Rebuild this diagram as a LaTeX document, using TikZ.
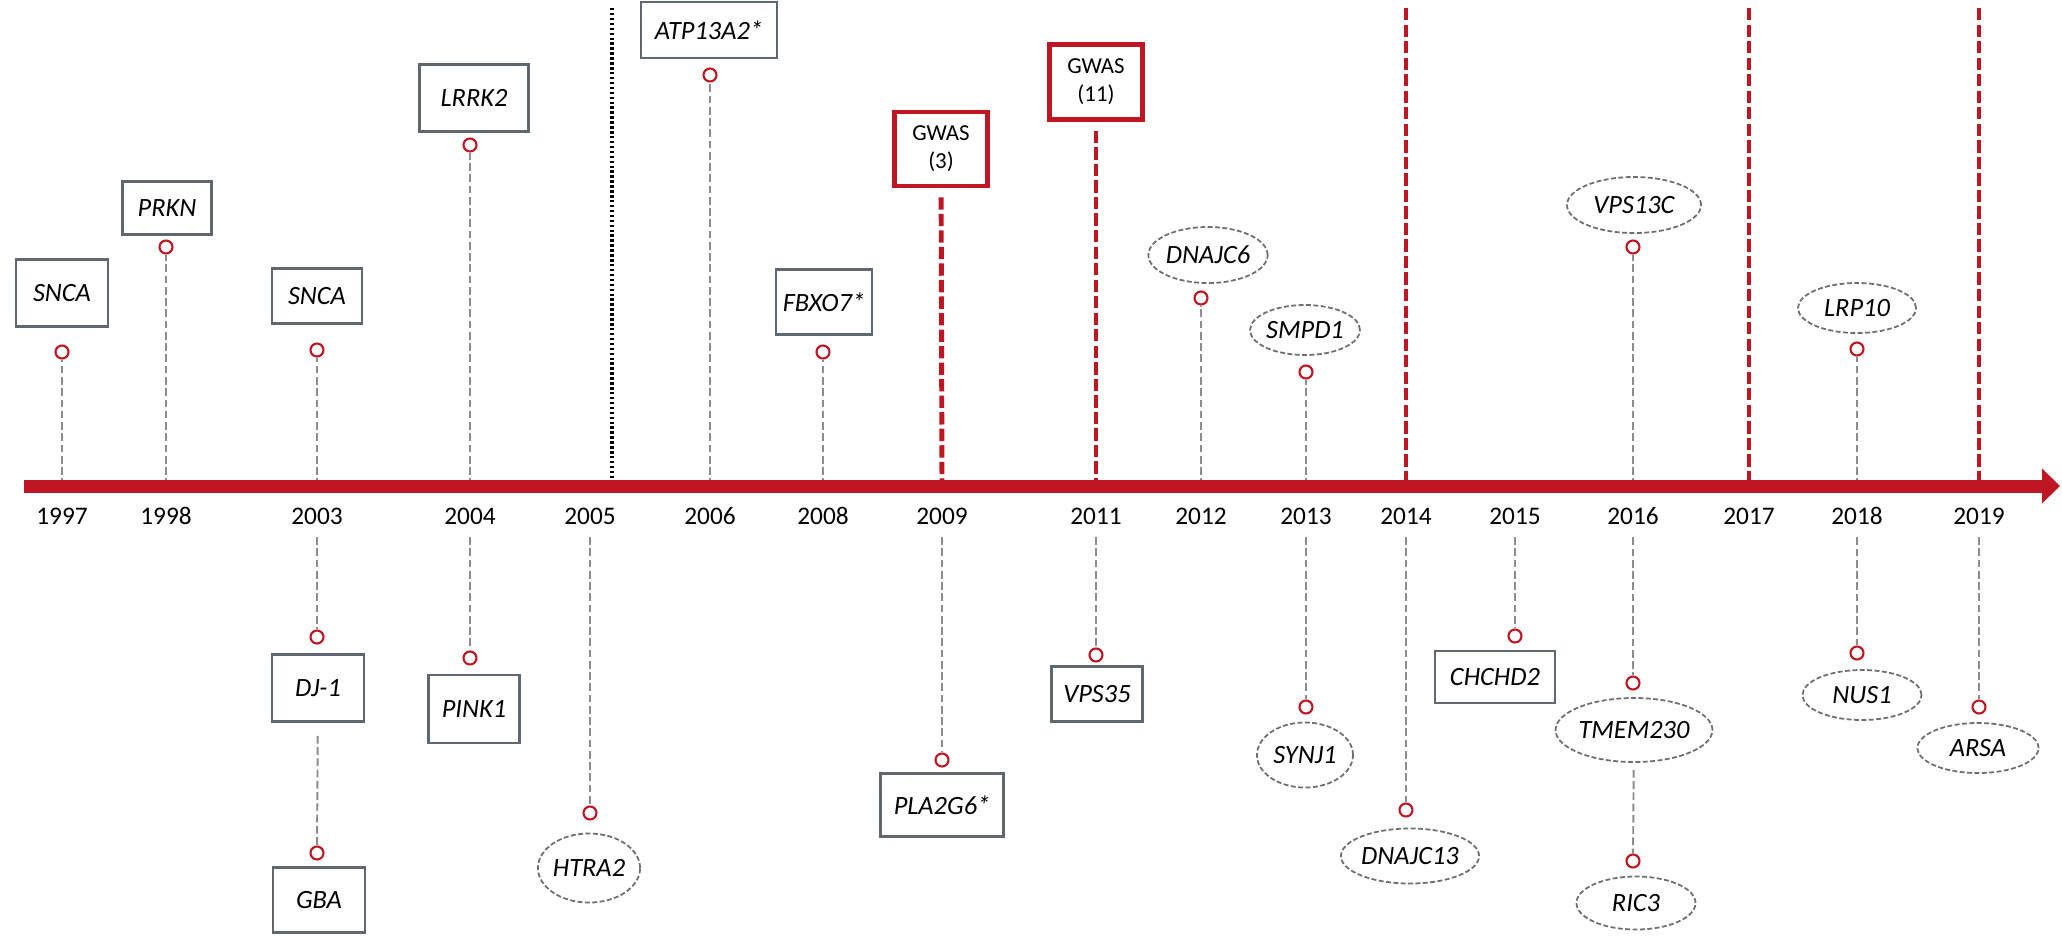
\documentclass[tikz,border=0pt]{standalone}
\usepackage{fontspec}
\setmainfont{Carlito}
\usetikzlibrary{arrows.meta, shapes.geometric}
\definecolor{tlred}{RGB}{190,22,34}
\definecolor{boxgray}{RGB}{95,103,112}
\definecolor{stemgray}{RGB}{140,140,140}
\definecolor{ovalgray}{RGB}{110,110,110}
\tikzstyle{genebase} = [text centered, inner sep=0pt, font=\fontsize{7.5}{9}\selectfont\itshape]
\tikzstyle{gene} = [genebase, rectangle, draw=boxgray, line width=0.8pt, fill=white]
\tikzstyle{geneoval} = [genebase, ellipse, draw=ovalgray, dash pattern=on 1.4pt off 0.7pt,
 line width=0.5pt, fill=white]
\tikzstyle{gwas} = [rectangle, draw=tlred, line width=1.3pt, align=center, inner sep=0pt,
 minimum width=0.93cm, font=\fontsize{6.5}{8}\selectfont]
\tikzstyle{year} = [inner sep=0pt, font=\fontsize{7.2}{9}\selectfont]
\tikzstyle{gdot} = [circle, draw=tlred, line width=0.6pt, minimum size=0.13cm, inner sep=0pt, fill=white]
\tikzstyle{stem} = [draw=stemgray, line width=0.55pt, dash pattern=on 2.2pt off 1pt]
\tikzstyle{redstem} = [draw=tlred, line width=1.4pt, dash pattern=on 3.5pt off 1.2pt]
\tikzstyle{timeline} = [line width=0.13cm, tlred, -{Triangle[length=0.18cm, width=0.34cm]}]
\NewDocumentCommand\Gene{m m m m m}{%
    \node (#1) [#2] at (#3) {#5};
    \node (#1_DOT) [gdot] at (#4) {};
}

\begin{document}
\begin{tikzpicture}[x=0.01cm, y=-0.01cm]
\useasboundingbox (0,0) rectangle (2062,935);

% years on the axis
\foreach \x/\yr in {62/1997, 166/1998, 317/2003, 470/2004, 590/2005, 710/2006,
    823/2008, 942/2009, 1096/2011, 1201/2012, 1306/2013, 1406/2014, 1515/2015,
    1633/2016, 1749/2017, 1857/2018, 1979/2019}{
    \node (Y\yr) [year] at (\x,516) {\yr};
    \coordinate (T\yr) at (\x,486);
}

% above the axis
\Gene{SNCA1}{gene, minimum width=0.92cm, minimum height=0.67cm}{62,293}{62,352}{SNCA}
\Gene{PRKN}{gene, minimum width=0.89cm, minimum height=0.53cm}{167,208}{166,247}{PRKN}
\Gene{SNCA2}{gene, minimum width=0.90cm, minimum height=0.55cm}{317,296}{317,350}{SNCA}
\Gene{LRRK2}{gene, minimum width=1.09cm, minimum height=0.67cm}{474,98}{470,145}{LRRK2}
\Gene{ATP13A2}{gene, minimum width=1.36cm, minimum height=0.56cm}{709,30}{710,75}{ATP13A2*}
\Gene{FBXO7}{gene, minimum width=0.96cm, minimum height=0.65cm}{824,302}{823,352}{FBXO7*}
\Gene{DNAJC6}{geneoval, minimum width=1.18cm, minimum height=0.56cm}{1208,255}{1201,298}{DNAJC6}
\Gene{SMPD1}{geneoval, minimum width=1.08cm, minimum height=0.50cm}{1305,330}{1306,372}{SMPD1}
\Gene{VPS13C}{geneoval, minimum width=1.34cm, minimum height=0.56cm}{1634,205}{1633,247}{VPS13C}
\Gene{LRP10}{geneoval, minimum width=1.18cm, minimum height=0.50cm}{1857,308}{1857,349}{LRP10}

\node (GWAS3) [gwas, minimum height=0.74cm] at (941,149) {GWAS\\(3)};
\node (GWAS11) [gwas, minimum height=0.75cm] at (1096,82) {GWAS\\(11)};

% below the axis
\Gene{DJ1}{gene, minimum width=0.92cm, minimum height=0.67cm}{318,688}{317,637}{DJ-1}
\Gene{GBA}{gene, minimum width=0.92cm, minimum height=0.65cm}{319,900}{317,853}{GBA}
\Gene{PINK1}{gene, minimum width=0.91cm, minimum height=0.68cm}{474,709}{470,658}{PINK1}
\Gene{HTRA2}{geneoval, minimum width=0.98cm, minimum height=0.69cm}{589,868}{590,813}{HTRA2}
\Gene{PLA2G6}{gene, minimum width=1.23cm, minimum height=0.63cm}{942,805}{942,760}{PLA2G6*}
\Gene{VPS35}{gene, minimum width=0.91cm, minimum height=0.55cm}{1097,694}{1096,655}{VPS35}
\Gene{SYNJ1}{geneoval, minimum width=0.96cm, minimum height=0.65cm}{1305,755}{1306,707}{SYNJ1}
\Gene{DNAJC13}{geneoval, minimum width=1.31cm, minimum height=0.55cm}{1410,856}{1406,810}{DNAJC13}
\Gene{CHCHD2}{gene, minimum width=1.20cm, minimum height=0.52cm}{1495,677}{1515,636}{CHCHD2}
\Gene{TMEM230}{geneoval, minimum width=1.48cm, minimum height=0.64cm}{1634,730}{1633,683}{TMEM230}
\Gene{RIC3}{geneoval, minimum width=1.19cm, minimum height=0.53cm}{1636,903}{1633,861}{RIC3}
\Gene{NUS1}{geneoval, minimum width=1.19cm, minimum height=0.50cm}{1862,695}{1857,653}{NUS1}
\Gene{ARSA}{geneoval, minimum width=1.21cm, minimum height=0.50cm}{1978,748}{1979,707}{ARSA}

% Stems
\draw[stem] (T1997) -- (SNCA1_DOT);
\draw[stem] (T1998) -- (PRKN_DOT);
\draw[stem] (T2003) -- (SNCA2_DOT);
\draw[stem] (T2004) -- (LRRK2_DOT);
\draw[stem] (T2006) -- (ATP13A2_DOT);
\draw[stem] (T2008) -- (FBXO7_DOT);
\draw[stem] (T2012) -- (DNAJC6_DOT);
\draw[stem] (T2013) -- (SMPD1_DOT);
\draw[stem] (T2016) -- (VPS13C_DOT);
\draw[stem] (T2018) -- (LRP10_DOT);

\draw[stem, shorten <=0.12cm] (Y2003) -- (DJ1_DOT);
\draw[stem, shorten <=0.13cm] (DJ1) -- (GBA_DOT);
\draw[stem, shorten <=0.12cm] (Y2004) -- (PINK1_DOT);
\draw[stem, shorten <=0.12cm] (Y2005) -- (HTRA2_DOT);
\draw[stem, shorten <=0.12cm] (Y2009) -- (PLA2G6_DOT);
\draw[stem, shorten <=0.12cm] (Y2011) -- (VPS35_DOT);
\draw[stem, shorten <=0.12cm] (Y2013) -- (SYNJ1_DOT);
\draw[stem, shorten <=0.12cm] (Y2014) -- (DNAJC13_DOT);
\draw[stem, shorten <=0.12cm] (Y2015) -- (CHCHD2_DOT);
\draw[stem, shorten <=0.12cm] (Y2016) -- (TMEM230_DOT);
\draw[stem, shorten <=0.07cm] (TMEM230) -- (RIC3_DOT);
\draw[stem, shorten <=0.12cm] (Y2018) -- (NUS1_DOT);
\draw[stem, shorten <=0.12cm] (Y2019) -- (ARSA_DOT);

% GWAS and later years
\draw[redstem, shorten <=0.09cm] (GWAS3) -- (T2009);
\draw[redstem, shorten <=0.09cm] (GWAS11) -- (T2011);
\coordinate (TOP2014) at (1406,8);
\coordinate (TOP2017) at (1749,8);
\coordinate (TOP2019) at (1979,8);
\draw[redstem] (TOP2014) -- (T2014);
\draw[redstem] (TOP2017) -- (T2017);
\draw[redstem] (TOP2019) -- (T2019);

% split between 2005 and 2006
\coordinate (SPLIT_TOP) at (612,8);
\coordinate (SPLIT) at (612,486);
\draw[line width=1.1pt, dash pattern=on 0.7pt off 0.7pt] (SPLIT_TOP) -- (SPLIT);

% Axis
\coordinate (START) at (24,486);
\coordinate (END) at (2060,486);
\draw[timeline] (START) -- (END);

\end{tikzpicture}
\end{document}
